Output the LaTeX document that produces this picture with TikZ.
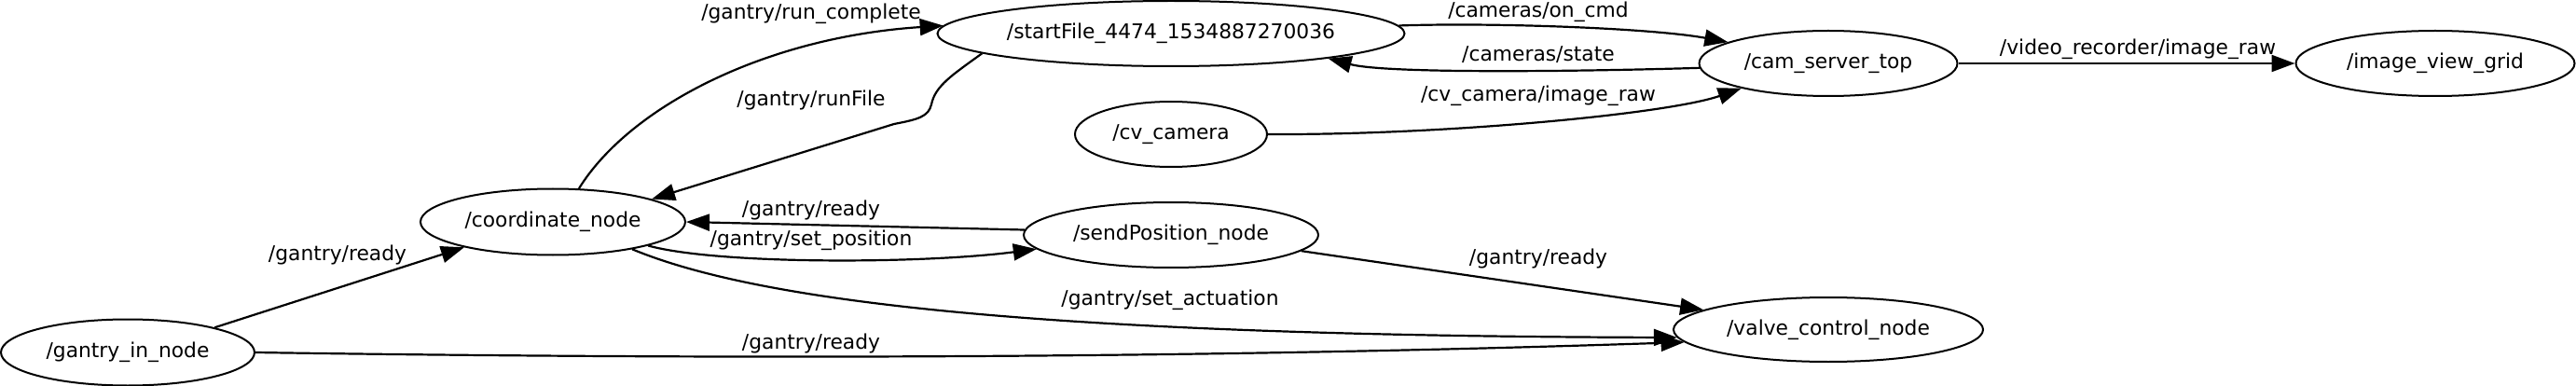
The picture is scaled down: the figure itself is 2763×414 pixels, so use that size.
\documentclass[tikz,border=0pt]{standalone}
\usepackage{fontspec}
\setmainfont{DejaVu Sans}
\usetikzlibrary{shapes.geometric,arrows.meta}
\begin{document}
\begin{tikzpicture}[x=1pt,y=-1pt,
  nd/.style={draw, ellipse, line width=2pt, inner sep=0pt, font=\fontsize{21.8}{26}\selectfont},
  edge/.style={line width=2.2pt, -{Triangle[length=25pt,width=18pt]}},
  lbl/.style={font=\fontsize{21.8}{26}\selectfont, inner sep=0pt}]
\useasboundingbox (0,0) rectangle (2763,414);

\node[nd, minimum width=272, minimum height=71] (gin) at (137,378) {/gantry\_in\_node};
\node[nd, minimum width=284, minimum height=71] (coord) at (593,238) {/coordinate\_node};
\node[nd, minimum width=501, minimum height=70] (start) at (1256,36) {/startFile\_4474\_1534887270036};
\node[nd, minimum width=206, minimum height=70] (cv) at (1256,144) {/cv\_camera};
\node[nd, minimum width=316, minimum height=70] (send) at (1256,252) {/sendPosition\_node};
\node[nd, minimum width=277, minimum height=70] (cam) at (1961,68) {/cam\_server\_top};
\node[nd, minimum width=299, minimum height=70] (view) at (2612,68) {/image\_view\_grid};
\node[nd, minimum width=332, minimum height=69] (valve) at (1961,353.5) {/valve\_control\_node};

\draw[edge] (gin.16.7) -- (coord.196.2);
\draw[edge] (gin.-0.8) .. controls (800,386) and (1300,384) .. (valve.185.9);
\draw[edge] (coord.52.4) .. controls (675,115) and (820,40) .. (start.178.1);
\draw[edge] (start.186.5) .. controls (1022,80) and (1003,92) .. (999,112)
  .. controls (996,125) and (985,128) .. (959,133) -- (coord.13.8);
\draw[edge] (send.178.2) -- (coord.-0.4);
\draw[edge] (coord.-14.7) .. controls (770,284) and (990,283) .. (send.186.5);
\draw[edge] (coord.-19) .. controls (810,322) and (1100,360) .. (valve.183);
\draw[edge] (send.-7.6) -- (valve.171.2);
\draw[edge] (start.2.1) .. controls (1600,24) and (1770,30) .. (cam.168);
\draw[edge] (cam.182) .. controls (1720,76) and (1490,80) .. (start.-9);
\draw[edge] (cv.0) .. controls (1550,145) and (1790,122) .. (cam.196.5);
\draw[edge] (cam.east) -- (view.west);

\node[lbl] (l1) at (362,273) {/gantry/ready};
\node[lbl] (l2) at (870,368) {/gantry/ready};
\node[lbl] (l3) at (870,15) {/gantry/run\_complete};
\node[lbl] (l4) at (870,107) {/gantry/runFile};
\node[lbl] (l5) at (870,225) {/gantry/ready};
\node[lbl] (l6) at (870,258) {/gantry/set\_position};
\node[lbl] (l7) at (1255,322) {/gantry/set\_actuation};
\node[lbl] (l8) at (1650,277) {/gantry/ready};
\node[lbl] (l9) at (1650,13) {/cameras/on\_cmd};
\node[lbl] (l10) at (1650,59) {/cameras/state};
\node[lbl] (l11) at (1650,103) {/cv\_camera/image\_raw};
\node[lbl] (l12) at (2293,53) {/video\_recorder/image\_raw};
\end{tikzpicture}
\end{document}
